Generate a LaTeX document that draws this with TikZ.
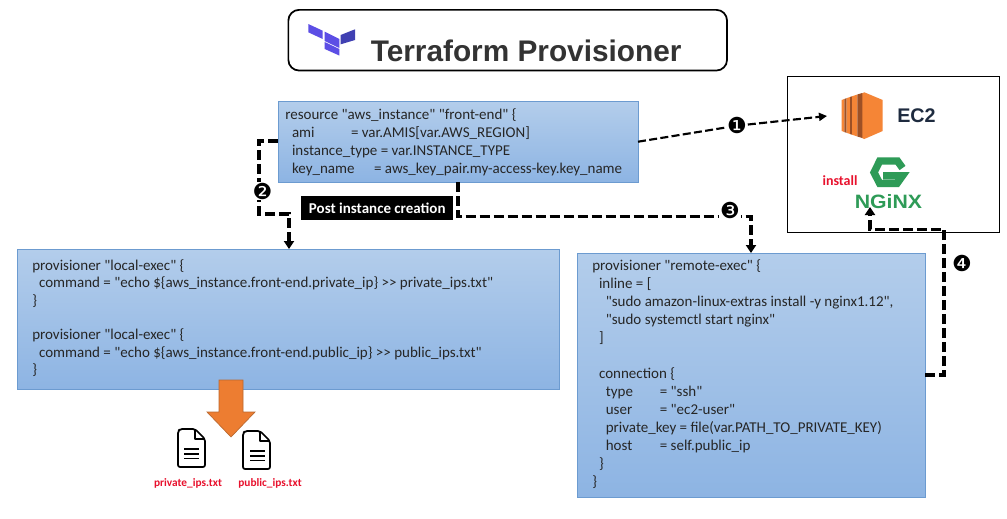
\documentclass[tikz,border=0pt]{standalone}
\usepackage{fontspec}
\newfontfamily\carl{Carlito}
\newfontfamily\arialf{Liberation Sans}
\newfontfamily\dejav{DejaVu Sans}
\usetikzlibrary{arrows.meta}
\definecolor{boxtop}{HTML}{B3CDEB}
\definecolor{boxbot}{HTML}{8DB4E3}
\definecolor{boxline}{HTML}{6C9BD0}
\definecolor{tfa}{HTML}{5C4EE5}
\definecolor{tfb}{HTML}{4040B2}
\definecolor{awsa}{HTML}{F58536}
\definecolor{awsb}{HTML}{9D5025}
\definecolor{ngx}{HTML}{2E9B57}
\definecolor{redtxt}{HTML}{E8112D}
\definecolor{navytxt}{HTML}{1E2B3F}
\definecolor{orangearrow}{HTML}{ED7D31}
\definecolor{orangeedge}{HTML}{B9682F}
\tikzset{
  x=0.75pt,y=-0.75pt,
  codebox/.style={draw=boxline,line width=0.75pt,top color=boxtop,bottom color=boxbot,anchor=north west,inner sep=0pt,minimum width=#1},
  codetext/.style={anchor=north west,inner sep=0pt,align=left,font=\carl\fontsize{11.25}{13.5}\selectfont,text=black!85},
  flow/.style={draw=black,line width=2.3pt,dash pattern=on 7.5pt off 3pt,-{Triangle[length=6pt,width=7.5pt]}},
  flowthin/.style={draw=black,line width=1.6pt,dash pattern=on 6pt off 2.5pt,-{Triangle[length=6pt,width=6pt]}},
  badge/.style={inner sep=0.5pt,font=\dejav\fontsize{16.5}{16.5}\selectfont,fill=white,text=black},
  redlab/.style={inner sep=0pt,text=redtxt,font=\carl\bfseries\fontsize{8.5}{8.5}\selectfont},
  docline/.style={draw=black,line width=1.3pt,line join=round},
}
\newcommand{\lab}[2]{\makebox[#1][l]{#2}}
\begin{document}
\begin{tikzpicture}
\useasboundingbox (0,0) rectangle (1007,518);
\fill[white] (0,0) rectangle (1007,518);
% title
\node[draw=black,line width=1.3pt,rounded corners=8pt,anchor=north west,minimum width=329pt,minimum height=45.5pt,inner sep=0pt] (title) at (287.5,9) {};
\node[inner sep=0pt,anchor=west,text=black!80,font=\arialf\bfseries\fontsize{22.35}{24}\selectfont] (titletxt) at (370.5,51) {Terraform Provisioner};
\fill[tfa] (308.3,24) -- (322.7,30.7) -- (322.7,39) -- (308.3,32.3) -- cycle;
\fill[tfa] (324.7,31.7) -- (339.3,39) -- (339.3,48) -- (324.7,41) -- cycle;
\fill[tfa] (324.7,42) -- (339.3,49) -- (339.3,55.5) -- (324.7,49) -- cycle;
\fill[tfb] (340.7,35) -- (355,29.3) -- (355,40) -- (340.7,44.3) -- cycle;
% EC2 box
\node[draw=black,line width=1pt,anchor=north west,minimum width=159pt,minimum height=117pt,inner sep=0pt] (ec2box) at (787,76) {};
% EC2 icon
\fill[awsa] (862,93.5) -- (864.3,92.3) -- (882.7,100) -- (882.7,131) -- (864.3,139) -- (862,138) -- cycle;
\fill[awsa] (841.7,100) -- (844.3,99) -- (844.3,132) -- (841.7,131) -- cycle;
\fill[awsb] (844.3,99) -- (846.5,98.2) -- (846.5,132.8) -- (844.3,132) -- cycle;
\fill[awsa] (846.5,98.2) -- (850,97) -- (850,134) -- (846.5,132.8) -- cycle;
\fill[awsb] (850,97) -- (852.2,96.2) -- (852.2,134.8) -- (850,134) -- cycle;
\fill[awsa] (852.2,96.2) -- (857.3,94.5) -- (857.3,136.5) -- (852.2,134.8) -- cycle;
\fill[awsb] (857.3,94.5) -- (862.3,93) -- (862.3,138) -- (857.3,136.5) -- cycle;
\node[inner sep=0pt,text=navytxt,font=\arialf\bfseries\fontsize{14.8}{16}\selectfont] (ec2txt) at (916.5,116) {EC2};
% nginx
\draw[ngx,line width=5.5pt,line join=miter] (902.5,168) -- (897.5,161) -- (879.7,161) -- (874,172.5) -- (879.7,183.5) -- (897,183.5) -- (902.5,175.8) -- (883,175.8);
\node[inner sep=0pt,text=ngx,transform shape,xscale=1.1,font=\arialf\bfseries\fontsize{14.5}{15}\selectfont] (ngxtxt) at (888.5,201.5) {NGiNX};
\node[redlab,font=\carl\bfseries\fontsize{10.5}{10.5}\selectfont] (install) at (840,180.5) {install};
% top code box
\node[codebox=270pt,minimum height=60.5pt] (top) at (278,101) {};
\node[codetext,font=\carl\fontsize{11.25}{13.7}\selectfont] (toptxt) at (285,108) {resource "aws\_instance" "front-end" \{\\
\ \ \lab{44.25pt}{ami}= var.AMIS[var.AWS\_REGION]\\
\ \ instance\_type = var.INSTANCE\_TYPE\\
\ \ \lab{61.5pt}{key\_name}= aws\_key\_pair.my-access-key.key\_name};
% left code box
\node[codebox=406.5pt,minimum height=105pt] (left) at (17,249) {};
\node[codetext,font=\carl\fontsize{11.25}{13.1}\selectfont] (lefttxt) at (32,259) {provisioner "local-exec" \{\\
\ \ command = "echo \$\{aws\_instance.front-end.private\_ip\} >{}> private\_ips.txt"\\
\}\\[13.1pt]
provisioner "local-exec" \{\\
\ \ command = "echo \$\{aws\_instance.front-end.public\_ip\} >{}> public\_ips.txt"\\
\}};
% right code box
\node[codebox=261pt,minimum height=183pt] (right) at (577,253) {};
\node[codetext] (righttxt) at (592,259) {provisioner "remote-exec" \{\\
\ \ inline = [\\
\ \ \ \ "sudo amazon-linux-extras install -y nginx1.12",\\
\ \ \ \ "sudo systemctl start nginx"\\
\ \ ]\\[13.5pt]
\ \ connection \{\\
\ \ \ \ \lab{40.5pt}{type}= "ssh"\\
\ \ \ \ \lab{40.5pt}{user}= "ec2-user"\\
\ \ \ \ private\_key = file(var.PATH\_TO\_PRIVATE\_KEY)\\
\ \ \ \ \lab{40.5pt}{host}= self.public\_ip\\
\ \ \}\\
\}};
% post label
\node[fill=black,text=white,anchor=north west,inner sep=0pt,minimum width=114pt,minimum height=18pt,font=\carl\bfseries\fontsize{11.25}{12}\selectfont] (post) at (301,196) {Post instance creation};
% connectors
\coordinate (c1s) at (638,141.7);
\coordinate (c1e) at (827,116);
\node[badge] (b1) at (737,125.7) {❶};
\draw[flowthin,-] (c1s) -- (b1);
\draw[flowthin] (b1) -- (c1e);
\coordinate (c2a) at (278,141);
\coordinate (c2b) at (259,141);
\coordinate (c2c) at (259,214);
\coordinate (c2d) at (289,214);
\coordinate (c2e) at (289,249);
\draw[flow] (c2a) -- (c2b) -- (c2c) -- (c2d) -- (c2e);
\node[badge] (b2) at (262.5,191) {❷};
\coordinate (c3a) at (458,182);
\coordinate (c3b) at (458,216.5);
\coordinate (c3c) at (751,216.5);
\coordinate (c3d) at (751,253);
\draw[flow] (c3a) -- (c3b) -- (c3c) -- (c3d);
\node[badge] (b3) at (730,210.7) {❸};
\coordinate (c4a) at (925,375);
\coordinate (c4b) at (944,375);
\coordinate (c4c) at (944,229.5);
\coordinate (c4d) at (870,229.5);
\coordinate (c4e) at (870,207);
\draw[flow] (c4a) -- (c4b) -- (c4c) -- (c4d) -- (c4e);
\node[badge,fill=none] (b4) at (962,263) {❹};
% orange arrow
\draw[draw=orangeedge,fill=orangearrow,line width=0.5pt] (219,380) -- (243,380) -- (243,412) -- (255,412) -- (231,437) -- (207,412) -- (219,412) -- cycle;
% files
\draw[docline,rounded corners=1.5pt] (195,429) -- (180,429) -- (178,431) -- (178,467) -- (205,467) -- (205,439) -- cycle;
\draw[docline] (195,429) -- (195,439) -- (205,439);
\draw[docline] (184,449) -- (199,449) (184,454) -- (199,454) (184,458.5) -- (199,458.5);
\draw[docline,rounded corners=1.5pt] (260,431) -- (245,431) -- (243,433) -- (243,469) -- (270,469) -- (270,441) -- cycle;
\draw[docline] (260,431) -- (260,441) -- (270,441);
\draw[docline] (250,451) -- (265,451) (250,456) -- (265,456) (250,460.5) -- (265,460.5);
\node[redlab] (f1) at (188,483) {private\_ips.txt};
\node[redlab] (f2) at (270,483) {public\_ips.txt};
\end{tikzpicture}
\end{document}
